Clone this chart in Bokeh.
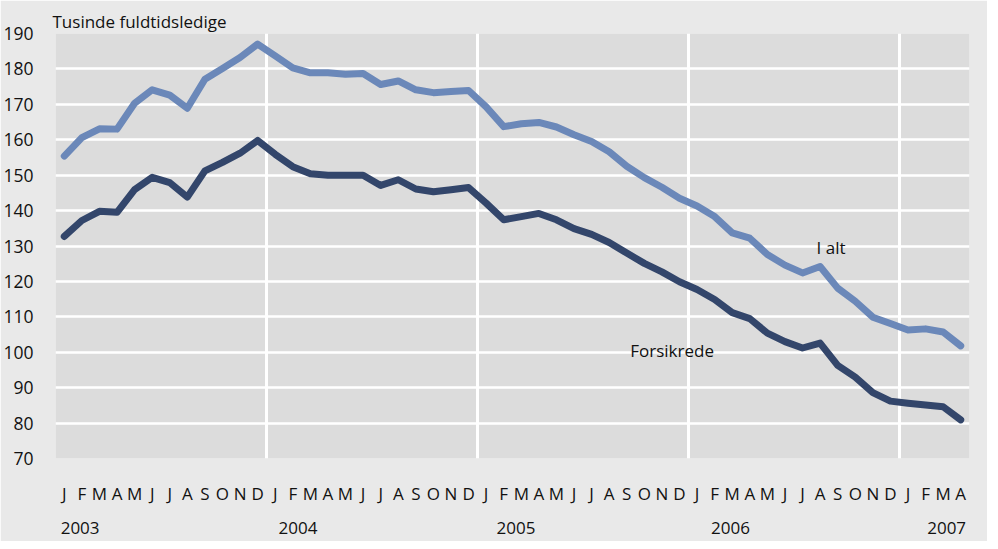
from bokeh.plotting import figure
from bokeh.models import Range1d, FixedTicker, LinearAxis, ColumnDataSource
from bokeh.core.properties import value
from bokeh.embed import file_html
from bokeh.resources import INLINE

# ---- data ----
month_letters = ["J", "F", "M", "A", "M", "J", "J", "A", "S", "O", "N", "D"]
years = ["2003", "2004", "2005", "2006", "2007"]
n_months = 52  # Jan 2003 .. Apr 2007

i_alt = [155.4, 160.6, 163.1, 163.0, 170.3, 174.1, 172.6, 168.9, 177.1, 180.1, 183.2, 187.0,
         183.7, 180.3, 178.9, 178.9, 178.5, 178.7, 175.6, 176.6, 174.1, 173.3, 173.6, 173.9,
         169.3, 163.7, 164.5, 164.9, 163.6, 161.4, 159.5, 156.6, 152.5, 149.3, 146.6, 143.5,
         141.3, 138.3, 133.7, 132.2, 127.6, 124.6, 122.4, 124.2, 118.1, 114.4, 109.9, 108.1,
         106.3, 106.6, 105.7, 101.8]

forsikrede = [132.7, 137.2, 139.8, 139.5, 145.9, 149.4, 147.9, 143.8, 151.2, 153.6, 156.2, 159.8,
              155.9, 152.4, 150.4, 150.0, 150.0, 150.0, 147.1, 148.7, 146.1, 145.3, 145.9, 146.5,
              142.1, 137.4, 138.3, 139.2, 137.4, 134.9, 133.3, 131.0, 128.0, 125.1, 122.7, 119.9,
              117.7, 114.9, 111.2, 109.5, 105.4, 103.0, 101.2, 102.6, 96.3, 93.0, 88.6, 86.2,
              85.6, 85.1, 84.6, 80.9]

series_labels = ["I alt", "Forsikrede"]
label_x = [42.8, 32.2]
label_y = [129.7, 100.4]

y_ticks = list(range(70, 191, 10))

# ---- figure ----
FONT = "Open Sans"
OUTER = "#e9e9e9"
INNER = "#dcdcdc"
LIGHT = "#6b88b9"
DARK = "#33466b"

x = list(range(n_months))

p = figure(width=987, height=541, output_backend="svg", toolbar_location=None,
           x_range=Range1d(-0.5, n_months - 0.5), y_range=Range1d(70, 190),
           min_border_left=52, min_border_right=18, min_border_top=33, min_border_bottom=83)
p.background_fill_color = INNER
p.border_fill_color = OUTER
p.outline_line_color = None

p.title.text = "Tusinde fuldtidsledige"
p.title.text_font = FONT
p.title.text_font_size = "17px"
p.title.text_font_style = "normal"
p.title.text_color = "#111111"
p.title.align = "left"
p.title.offset = -3
p.title.standoff = 2

# y axis
p.yaxis.ticker = FixedTicker(ticks=y_ticks)
p.yaxis.axis_line_color = None
p.yaxis.major_tick_line_color = None
p.yaxis.minor_tick_line_color = None
p.yaxis.major_label_standoff = 16
p.yaxis.major_label_text_font = FONT
p.yaxis.major_label_text_font_size = "17.5px"
p.yaxis.major_label_text_color = "#111111"

# month axis
p.xaxis.ticker = FixedTicker(ticks=x)
p.xaxis.major_label_overrides = {i: month_letters[i % 12] for i in x}
p.xaxis.axis_line_color = None
p.xaxis.major_tick_line_color = None
p.xaxis.minor_tick_line_color = None
p.xaxis.major_label_standoff = 17
p.xaxis.major_label_text_font = FONT
p.xaxis.major_label_text_font_size = "17px"
p.xaxis.major_label_text_color = "#111111"

# year axis
year_pos = [0.9, 13.3, 25.7, 37.9, 50.2]
yax = LinearAxis(ticker=FixedTicker(ticks=year_pos),
                 major_label_overrides={pos: yr for pos, yr in zip(year_pos, years)})
yax.axis_line_color = None
yax.major_tick_line_color = None
yax.minor_tick_line_color = None
yax.major_label_standoff = 8
yax.major_label_text_font = FONT
yax.major_label_text_font_size = "17px"
yax.major_label_text_color = "#111111"
p.add_layout(yax, "below")

# grids
p.ygrid.ticker = FixedTicker(ticks=y_ticks)
p.ygrid.grid_line_color = "white"
p.ygrid.grid_line_width = 2.5
p.xgrid.ticker = FixedTicker(ticks=[-0.5, 11.5, 23.5, 35.5, 47.5])
p.xgrid.grid_line_color = "white"
p.xgrid.grid_line_width = 3

src = ColumnDataSource(dict(x=x, i_alt=i_alt, fors=forsikrede))
p.line("x", "i_alt", source=src, line_color=LIGHT, line_width=7, line_join="round", line_cap="round")
p.line("x", "fors", source=src, line_color=DARK, line_width=7, line_join="round", line_cap="round")

p.text(x=label_x, y=label_y, text=series_labels, text_font=value(FONT), text_font_size="17px",
       text_align="left", text_baseline="middle", text_color="#111111")

open("out.html", "w").write(file_html(p, INLINE))
